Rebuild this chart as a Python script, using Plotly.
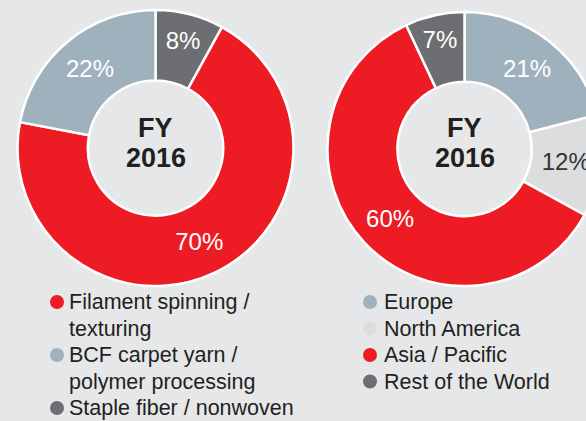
import plotly.graph_objects as go

# ---- data ----
seg_labels = ["Filament spinning / texturing", "BCF carpet yarn / polymer processing", "Staple fiber / nonwoven"]
seg_values = [70, 22, 8]
seg_colors = ["#ED1C24", "#9FB1BC", "#6D6E71"]
seg_legend_lines = [["Filament spinning /", "texturing"], ["BCF carpet yarn /", "polymer processing"], ["Staple fiber / nonwoven"]]
seg_clockwise_order = [2, 0, 1]  # drawing order from 12 o'clock

reg_labels = ["Europe", "North America", "Asia / Pacific", "Rest of the World"]
reg_values = [21, 12, 60, 7]
reg_colors = ["#9FB1BC", "#DCDDDE", "#ED1C24", "#6D6E71"]
reg_text_colors = ["white", "#333333", "white", "white"]

center_lines = ["FY", "2016"]

# ---- layout constants (pixels) ----
W, H = 602, 421
BG = "#E6E7E8"
FONT = "Liberation Sans, Arial, Helvetica, sans-serif"

def dom(cx, cy, r):
    return dict(x=[(cx - r) / W, (cx + r) / W], y=[(H - cy - r) / H, (H - cy + r) / H])

left_c = (155.5, 148, 138)
right_c = (464.5, 149, 137)

fig = go.Figure()

o = seg_clockwise_order
fig.add_trace(go.Pie(
    labels=[seg_labels[i] for i in o],
    values=[seg_values[i] for i in o],
    marker=dict(colors=[seg_colors[i] for i in o], line=dict(color="white", width=2.5)),
    hole=0.49, sort=False, direction="clockwise", rotation=0,
    domain=dom(*left_c),
    texttemplate="%{value}%", textposition="inside", insidetextorientation="horizontal",
    insidetextfont=dict(family=FONT, size=24, color="white"),
    showlegend=False, hoverinfo="label+value",
))

fig.add_trace(go.Pie(
    labels=reg_labels, values=reg_values,
    marker=dict(colors=reg_colors, line=dict(color="white", width=2.5)),
    hole=0.49, sort=False, direction="clockwise", rotation=0,
    domain=dom(*right_c),
    texttemplate="%{value}%", textposition="inside", insidetextorientation="horizontal",
    insidetextfont=dict(family=FONT, size=24, color=reg_text_colors),
    showlegend=False, hoverinfo="label+value",
))

annotations = []
for (cx, cy, r) in (left_c, right_c):
    for k, txt in enumerate(center_lines):
        annotations.append(dict(
            x=cx / W, y=(H - (128 + 30 * k)) / H, xref="paper", yref="paper", text="<b>" + txt + "</b>",
            showarrow=False, xanchor="center", yanchor="middle",
            font=dict(family=FONT, size=27, color="#231F20"),
        ))

shapes = []
line_h = 26.5

def legend_col(x_dot, x_text, y0, groups, colors):
    y = y0
    for lines, col in zip(groups, colors):
        shapes.append(dict(type="circle", xref="paper", yref="paper", xsizemode="pixel", ysizemode="pixel",
                           xanchor=x_dot / W, yanchor=(H - y) / H, x0=-7, x1=7, y0=-7, y1=7,
                           fillcolor=col, line=dict(width=0)))
        for ln in lines:
            annotations.append(dict(x=x_text / W, y=(H - y) / H, xref="paper", yref="paper", text=ln,
                                    showarrow=False, xanchor="left", yanchor="middle",
                                    font=dict(family=FONT, size=21.5, color="#231F20")))
            y += line_h

legend_col(57, 67, 302, seg_legend_lines, seg_colors)
legend_col(370, 382, 302, [[l] for l in reg_labels], reg_colors)

fig.update_layout(
    width=W, height=H, margin=dict(l=0, r=0, t=0, b=0),
    paper_bgcolor=BG, plot_bgcolor=BG,
    annotations=annotations, shapes=shapes,
)

fig.write_html("out.html", config={"displayModeBar": False},
               post_script="document.body.style.margin='0';document.body.style.overflow='hidden';")
